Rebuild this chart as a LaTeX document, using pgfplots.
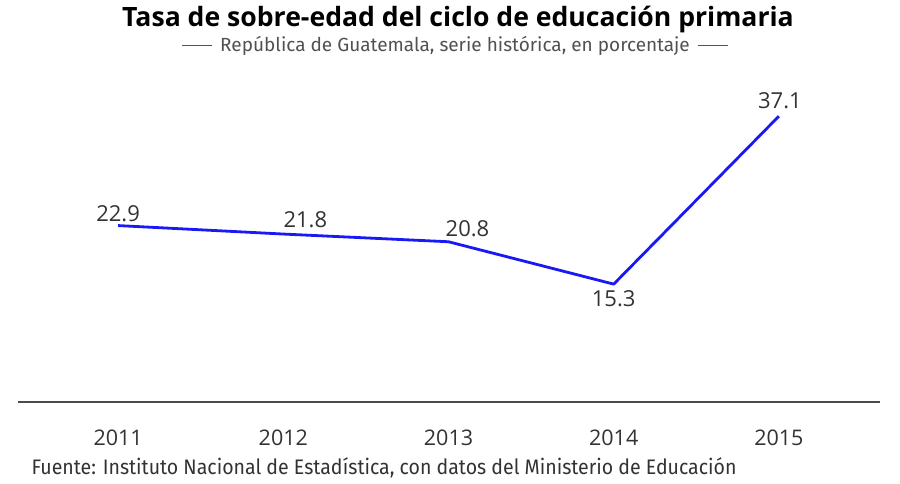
\documentclass[border=0pt]{standalone}
\usepackage{pgfplots}
\pgfplotsset{compat=1.18}
\usepackage{fontspec}
\setmainfont{Open Sans}
\newfontfamily\condf[FakeStretch=0.93]{Fira Sans}
\newfontfamily\subf{Fira Sans}
\newfontfamily\labf{Open Sans}
\definecolor{lineblue}{RGB}{25,25,245}
\definecolor{txt}{RGB}{50,50,50}
\begin{document}
\begin{tikzpicture}[x=1pt,y=1pt]
\path[use as bounding box] (0,0) rectangle (900,-483);
\node[font=\bfseries\fontsize{26.6}{26.6}\selectfont, text=black] at (458,-20) {Tasa de sobre-edad del ciclo de educación primaria};
\node[font=\subf\fontsize{19}{19}\selectfont, text=txt!85] at (455,-46) {\rule[0.3em]{30pt}{0.8pt}\hspace{8pt}República de Guatemala, serie histórica, en porcentaje\hspace{8pt}\rule[0.3em]{30pt}{0.8pt}};
\node[font=\condf\fontsize{21}{21}\selectfont, text=txt, anchor=west] at (28,-468) {Fuente: Instituto Nacional de Estadística, con datos del Ministerio de Educación};
\begin{axis}[at={(18pt,-402pt)}, anchor=south west, scale only axis,
  width=862pt, height=339pt,
  xmin=2010.394, xmax=2015.612, ymin=0, ymax=44,
  axis x line*=bottom, axis y line=none,
  x axis line style={draw=black!70, line width=1.5pt},
  xtick={2011,2012,2013,2014,2015}, major tick length=0pt,
  /pgf/number format/assume math mode=true,
  /pgf/number format/1000 sep={},
  xticklabel style={font=\labf\fontsize{21.5}{21.5}\selectfont, text=txt, anchor=north, inner sep=0pt, yshift=-28pt},
  clip=false]
\addplot[lineblue, line width=2.8pt, line join=round] coordinates {(2011,22.9) (2012,21.8) (2013,20.8) (2014,15.3) (2015,37.1)};
\begin{scope}[every node/.style={font=\labf\fontsize{22}{22}\selectfont, text=txt, inner sep=0pt}]
\node at (axis cs:2011,22.9) [yshift=12pt] {22.9};
\node at (axis cs:2012,21.8) [xshift=22pt, yshift=14pt] {21.8};
\node at (axis cs:2013,20.8) [xshift=19pt, yshift=13pt] {20.8};
\node at (axis cs:2014,15.3) [yshift=-15pt] {15.3};
\node at (axis cs:2015,37.1) [xshift=1pt, yshift=15pt] {37.1};
\end{scope}
\end{axis}
\end{tikzpicture}
\end{document}
